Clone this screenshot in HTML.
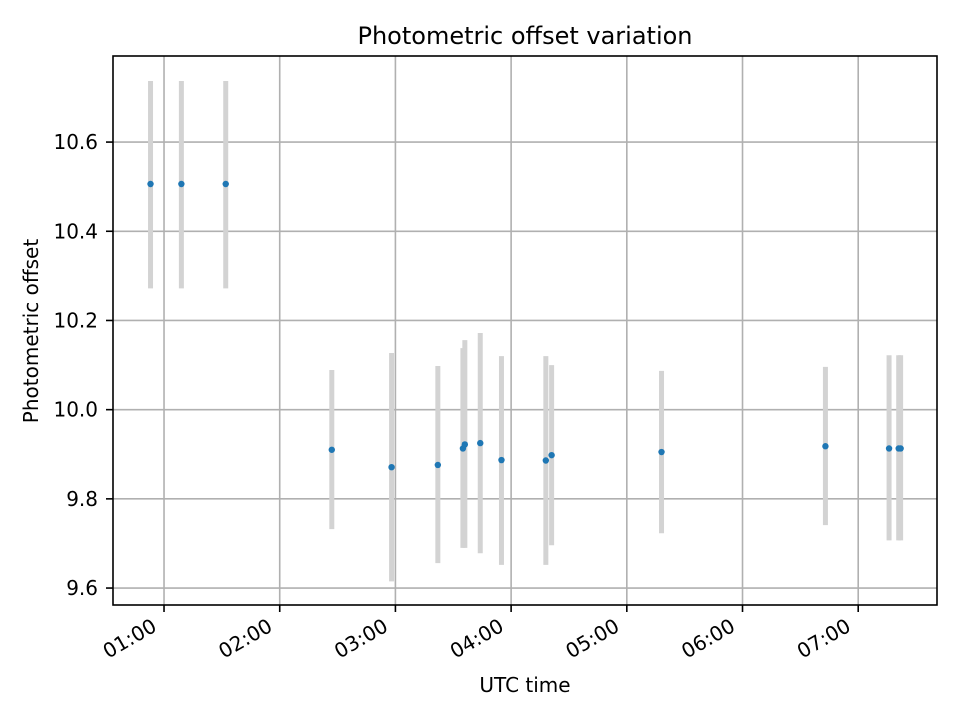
<!DOCTYPE html>
<html><head><meta charset="utf-8"><style>
body{margin:0;background:#fff;font-family:"Liberation Sans","DejaVu Sans",sans-serif}
svg text{font-family:"DejaVu Sans","Liberation Sans",sans-serif;fill:#000}
</style></head><body>
<svg id="chart" width="960" height="720" xmlns="http://www.w3.org/2000/svg">
<rect width="960" height="720" fill="#fff"/>
<g id="grid"></g><g id="bars"></g><g id="pts"></g><g id="axes"></g>
<text x="525" y="44" font-size="24" text-anchor="middle">Photometric offset variation</text>
<text x="525" y="692" font-size="20" text-anchor="middle">UTC time</text>
<text transform="translate(38,331) rotate(-90)" font-size="20" text-anchor="middle">Photometric offset</text>
</svg>
<script>
const times = ["00:53","01:09","01:32","02:27","02:58","03:22","03:35","03:36","03:44","03:55","04:18","04:21","05:18","06:43","07:16","07:21","07:22"];
const offsets = [10.506,10.506,10.506,9.910,9.871,9.876,9.913,9.922,9.925,9.887,9.886,9.898,9.905,9.918,9.913,9.913,9.913];
const upper = [10.737,10.737,10.737,10.089,10.127,10.098,10.138,10.156,10.172,10.120,10.120,10.100,10.087,10.096,10.122,10.122,10.122];
const lower = [10.272,10.272,10.272,9.732,9.615,9.656,9.690,9.690,9.678,9.652,9.652,9.696,9.723,9.741,9.707,9.707,9.707];
const xTicks = ["01:00","02:00","03:00","04:00","05:00","06:00","07:00"];
const yTicks = [9.6,9.8,10.0,10.2,10.4,10.6];

const L=113,R=937,T=56,B=605, X0=0.559, X1=7.681, Y0=9.562, Y1=10.793;
const hrs=s=>{const p=s.split(':');return +p[0]+ +p[1]/60;};
const xs=h=>L+(h-X0)/(X1-X0)*(R-L);
const ys=v=>B-(v-Y0)/(Y1-Y0)*(B-T);
const NS="http://www.w3.org/2000/svg";
function mk(tag,attrs,parent,txt){const e=document.createElementNS(NS,tag);for(const k in attrs)e.setAttribute(k,attrs[k]);if(txt!==undefined)e.textContent=txt;document.getElementById(parent).appendChild(e);return e;}

xTicks.forEach(t=>{
  const x=xs(hrs(t));
  const g=mk('line',{x1:x,x2:x,y1:T,y2:B,stroke:'#b0b0b0','stroke-width':1.6},'grid');
  
  
  const tk=mk('line',{x1:x,x2:x,y1:B,y2:B+7,stroke:'#000','stroke-width':1.6},'axes');
  
  
  const lb=mk('text',{transform:`translate(${x-6},${B+25}) rotate(-30)`,'font-size':20,'text-anchor':'end'},'axes',t);
  
  
});
yTicks.forEach(v=>{
  const y=ys(v);
  const g=mk('line',{x1:L,x2:R,y1:y,y2:y,stroke:'#b0b0b0','stroke-width':1.6},'grid');
  
  
  const tk=mk('line',{x1:L-7,x2:L,y1:y,y2:y,stroke:'#000','stroke-width':1.6},'axes');
  
  
  const lb=mk('text',{x:L-15,y:y+7,'font-size':20,'text-anchor':'end'},'axes',v.toFixed(1));
  
  
});
times.forEach((t,i)=>{
  const x=xs(hrs(t));
  const b=mk('line',{x1:x,x2:x,y1:ys(upper[i]),y2:ys(lower[i]),stroke:'#d3d3d3','stroke-width':5},'bars');
  
  
  const c=mk('circle',{cx:x,cy:ys(offsets[i]),r:3.2,fill:'#1f77b4'},'pts');
  
  
});
const fr=mk('rect',{x:L,y:T,width:R-L,height:B-T,fill:'none',stroke:'#000','stroke-width':1.6},'axes');


</script>
</body></html>
